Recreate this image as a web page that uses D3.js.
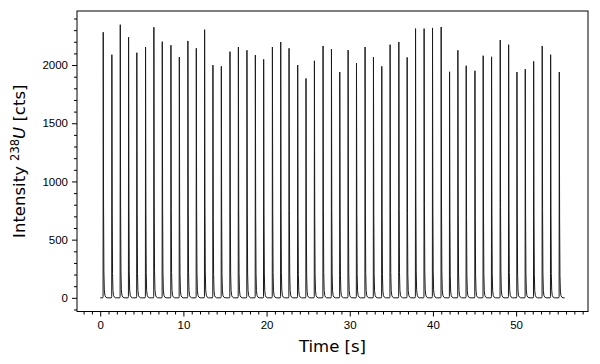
<!DOCTYPE html>
<html>
<head>
<meta charset="utf-8">
<script src="https://cdn.jsdelivr.net/npm/d3@7"></script>
<style>
  body { margin: 0; background: #fff; }
  svg { font-family: "DejaVu Sans", sans-serif; }
  .axis text { font-size: 11.5px; fill: #000; }
  .axis path, .axis line { stroke: #000; }
</style>
</head>
<body>
<svg id="chart" width="600" height="364"></svg>
<script>
// peak times [s]
const peakTimes = [0.36, 1.40, 2.41, 3.41, 4.40, 5.45, 6.45, 7.46, 8.50, 9.51,
  10.54, 11.55, 12.55, 13.55, 14.56, 15.60, 16.61, 17.64, 18.65, 19.65,
  20.70, 21.70, 22.70, 23.74, 24.74, 25.75, 26.79, 27.80, 28.80, 29.80,
  30.81, 31.84, 32.85, 33.85, 34.85, 35.90, 36.90, 37.91, 38.94, 39.95,
  40.99, 42.00, 43.00, 44.00, 45.05, 46.04, 47.05, 48.09, 49.10, 50.10,
  51.10, 52.11, 53.14, 54.15, 55.19];

// peak intensities [cts]
const peakHeights = [2282, 2089, 2347, 2239, 2106, 2155, 2325, 2201, 2170, 2069,
  2207, 2144, 2304, 2000, 1989, 2115, 2155, 2127, 2086, 2049,
  2155, 2198, 2144, 2000, 1885, 2037, 2164, 2138, 1940, 2129,
  2017, 2155, 2069, 1989, 2175, 2198, 2066, 2313, 2313, 2319,
  2327, 1942, 2127, 1994, 1951, 2080, 2071, 2215, 2175, 1940,
  1965, 2032, 2164, 2089, 1940];

// shape of one pulse: time offset from peak [s] and fraction of peak height
const pulseOffsets = [-0.06, -0.02, 0, 0.04, 0.08, 0.13, 0.2, 0.3, 0.45];
const pulseLevels = [0, 0.005, 1, 0.35, 0.1, 0.03, 0.01, 0.003, 0];

const runStart = 0.0;
const runEnd = 55.85;

const xTicks = [0, 10, 20, 30, 40, 50];
const yTicks = [0, 500, 1000, 1500, 2000];

const margin = { left: 77, right: 12, top: 11, bottom: 52.5 };
const svg = d3.select("#chart");
const width = 600 - margin.left - margin.right;
const height = 364 - margin.top - margin.bottom;

const chart = svg.append("g")
  .attr("transform", "translate(" + margin.left + "," + margin.top + ")");

// build the trace from the peaks
const trace = [{ t: runStart, v: 0 }];
peakTimes.forEach((t0, i) => {
  pulseOffsets.forEach((dt, j) => {
    trace.push({ t: t0 + dt, v: peakHeights[i] * pulseLevels[j] });
  });
});
trace.push({ t: runEnd, v: 0 });

const xExt = [runStart, runEnd];
const xPad = (xExt[1] - xExt[0]) * 0.05;
const yMax = d3.max(peakHeights);
const yPad = yMax * 0.05;

const xScale = d3.scaleLinear()
  .domain([xExt[0] - xPad, xExt[1] + xPad])
  .range([0, width]);

const yScale = d3.scaleLinear()
  .domain([-yPad, yMax + yPad])
  .range([height, 0]);

// minor ticks
const xMinor = d3.range(Math.ceil(xScale.domain()[0]), xScale.domain()[1], 1)
  .filter(d => !xTicks.includes(d));
const yMinor = d3.range(-100, yScale.domain()[1], 100)
  .filter(d => !yTicks.includes(d));

chart.append("g")
  .attr("class", "axis")
  .attr("transform", "translate(0," + height + ")")
  .call(d3.axisBottom(xScale).tickValues(xMinor).tickSize(3).tickFormat(""))
  .call(g => g.select(".domain").remove());

chart.append("g")
  .attr("class", "axis")
  .call(d3.axisLeft(yScale).tickValues(yMinor).tickSize(3).tickFormat(""))
  .call(g => g.select(".domain").remove());

chart.append("g")
  .attr("class", "axis")
  .attr("transform", "translate(0," + height + ")")
  .call(d3.axisBottom(xScale).tickValues(xTicks).tickSize(5).tickPadding(4)
    .tickFormat(d3.format("d")))
  .call(g => g.select(".domain").remove());

chart.append("g")
  .attr("class", "axis")
  .call(d3.axisLeft(yScale).tickValues(yTicks).tickSize(5).tickPadding(4)
    .tickFormat(d3.format("d")))
  .call(g => g.select(".domain").remove());

const line = d3.line()
  .x(d => xScale(d.t))
  .y(d => yScale(d.v));

chart.append("path")
  .datum(trace)
  .attr("fill", "none")
  .attr("stroke", "#1a1a1a")
  .attr("stroke-width", 1)
  .attr("d", line);

chart.append("rect")
  .attr("width", width)
  .attr("height", height)
  .attr("fill", "none")
  .attr("stroke", "#000")
  .attr("stroke-width", 1);

chart.append("text")
  .attr("x", width / 2)
  .attr("y", height + 40)
  .attr("text-anchor", "middle")
  .attr("font-size", "16.5px")
  .text("Time [s]");

const yLabel = chart.append("text")
  .attr("transform", "translate(-52," + (height / 2) + ") rotate(-90)")
  .attr("text-anchor", "middle")
  .attr("font-size", "16.5px");
yLabel.append("tspan").text("Intensity ");
yLabel.append("tspan").attr("font-size", "11.5px").attr("dy", "-6").text("238");
yLabel.append("tspan").attr("font-style", "italic").attr("dy", "6").text("U");
yLabel.append("tspan").text(" [cts]");
</script>
</body>
</html>
